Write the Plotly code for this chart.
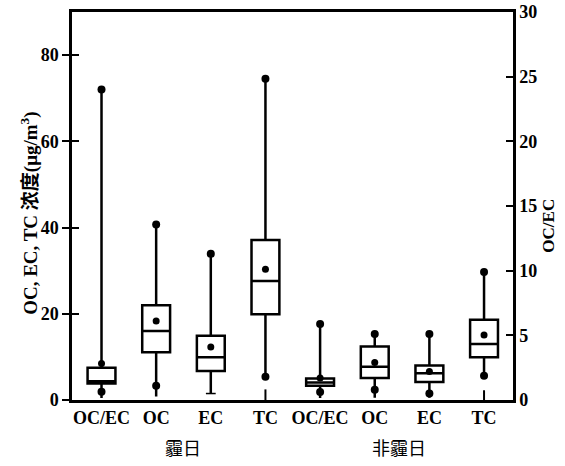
import plotly.graph_objects as go

# ---------------- data ----------------
categories = ["OC/EC", "OC", "EC", "TC", "OC/EC", "OC", "EC", "TC"]
groups = ["霾日", "非霾日"]

# concentration boxes (left axis, µg/m3): OC, EC, TC haze ; OC, EC, TC non-haze
conc_pos = [1, 2, 3, 5, 6, 7]
conc_q1 = [11.1, 6.7, 19.9, 5.1, 4.2, 9.9]
conc_med = [16.0, 9.9, 27.6, 7.7, 6.2, 13.0]
conc_q3 = [22.0, 14.9, 37.1, 12.4, 8.0, 18.6]
conc_low = [0.8, 1.5, 5.4, 0.5, 0.5, 5.65]
conc_high = [40.7, 33.9, 74.5, 15.3, 15.3, 29.7]
conc_mean = [18.3, 12.3, 30.3, 8.7, 6.6, 15.1]
conc_lowdot = [3.3, None, 5.4, 2.35, 1.5, 5.65]
conc_min = [None, None, 1.0, None, None, 0.8]
conc_mindash = [None, 1.5, None, None, None, None]

# OC/EC ratio boxes (right axis)
ratio_pos = [0, 4]
ratio_q1 = [1.28, 1.1]
ratio_med = [1.45, 1.35]
ratio_q3 = [2.5, 1.67]
ratio_low = [0.15, 0.15]
ratio_high = [24.0, 5.87]
ratio_mean = [2.83, 1.7]
ratio_lowdot = [0.64, 0.62]

FONT = "Liberation Serif, Times New Roman, serif"
CJK = "Noto Sans CJK SC"

fig = go.Figure()

box_style = dict(fillcolor="white", line=dict(color="black", width=2.5),
                 whiskerwidth=0, width=0.51, boxpoints=False, showlegend=False,
                 hoverinfo="skip")

fig.add_trace(go.Box(x=conc_pos, q1=conc_q1, median=conc_med, q3=conc_q3,
                     lowerfence=conc_low, upperfence=conc_high, yaxis="y", **box_style))
fig.add_trace(go.Box(x=ratio_pos, q1=ratio_q1, median=ratio_med, q3=ratio_q3,
                     lowerfence=ratio_low, upperfence=ratio_high, yaxis="y2", **box_style))


def pts(xs, ys):
    xx = [x for x, y in zip(xs, ys) if y is not None]
    yy = [y for y in ys if y is not None]
    return xx, yy

for arr, size in [(conc_high, 8), (conc_mean, 7), (conc_lowdot, 8)]:
    xx, yy = pts(conc_pos, arr)
    fig.add_trace(go.Scatter(x=xx, y=yy, mode="markers", yaxis="y",
                             marker=dict(color="black", size=size), showlegend=False))
for arr, size in [(ratio_high, 8), (ratio_mean, 7), (ratio_lowdot, 8)]:
    xx, yy = pts(ratio_pos, arr)
    fig.add_trace(go.Scatter(x=xx, y=yy, mode="markers", yaxis="y2",
                             marker=dict(color="black", size=size), showlegend=False))

xx, yy = pts(conc_pos, conc_min)
fig.add_trace(go.Scatter(x=xx, y=yy, mode="markers", yaxis="y",
                         marker=dict(symbol="line-ns", size=9,
                                     line=dict(color="black", width=2)),
                         showlegend=False))
xx, yy = pts(conc_pos, conc_mindash)
fig.add_trace(go.Scatter(x=xx, y=yy, mode="markers", yaxis="y",
                         marker=dict(symbol="line-ew", size=7,
                                     line=dict(color="black", width=1.5)),
                         showlegend=False))

tickfont = dict(family=FONT, size=18, color="black", weight="bold")

fig.update_layout(
    width=565, height=466,
    margin=dict(l=72, r=52, t=12, b=66),
    paper_bgcolor="white", plot_bgcolor="white",
    boxmode="overlay",
    xaxis=dict(range=[-0.54, 7.53], tickvals=list(range(8)), ticktext=categories,
               showline=True, linecolor="black", linewidth=2.5, mirror=True,
               showgrid=False, zeroline=False, ticks="", tickfont=tickfont,
               automargin=False),
    yaxis=dict(range=[0, 90], tickvals=[0, 20, 40, 60, 80], showline=True,
               linecolor="black", linewidth=2.5, ticks="outside", ticklen=7,
               tickwidth=2, tickcolor="black", showgrid=False, zeroline=False,
               tickfont=tickfont, automargin=False),
    yaxis2=dict(range=[0, 30], tickvals=[0, 5, 10, 15, 20, 25, 30], overlaying="y",
                side="right", showline=True, linecolor="black", linewidth=2.5,
                ticks="inside", ticklen=7, tickwidth=2, tickcolor="black",
                showgrid=False, zeroline=False, tickfont=tickfont, automargin=False),
    yaxis3=dict(range=[0, 90], tickvals=[0, 20, 40, 60, 80], overlaying="y",
                side="left", showline=False, ticks="inside", ticklen=7, tickwidth=2,
                tickcolor="black", showticklabels=False, showgrid=False,
                zeroline=False, automargin=False),
    annotations=[
        dict(text="OC, EC, TC 浓度(μg/m<sup>3</sup>)", x=-0.095, xref="paper", y=0.48,
             yref="paper", textangle=-90, showarrow=False,
             font=dict(family=FONT + ", " + CJK, size=19, color="black", weight="bold"),
             xanchor="center", yanchor="middle"),
        dict(text="OC/EC", x=1.08, xref="paper", y=0.45, yref="paper",
             textangle=-90, showarrow=False,
             font=dict(family=FONT, size=17, color="black", weight="bold"),
             xanchor="center", yanchor="middle"),
        dict(text=groups[0], x=1.5, xref="x", y=-0.12, yref="paper",
             showarrow=False, font=dict(family=CJK, size=18, color="black"),
             xanchor="center", yanchor="middle"),
        dict(text=groups[1], x=5.45, xref="x", y=-0.12, yref="paper",
             showarrow=False, font=dict(family=CJK, size=18, color="black"),
             xanchor="center", yanchor="middle"),
    ],
)

# dummy trace to activate yaxis3
fig.add_trace(go.Scatter(x=[None], y=[None], yaxis="y3", showlegend=False))

fig.write_html("out.html", config={"displayModeBar": False},
               post_script="document.body.style.margin='0px';document.body.style.overflow='hidden';")
